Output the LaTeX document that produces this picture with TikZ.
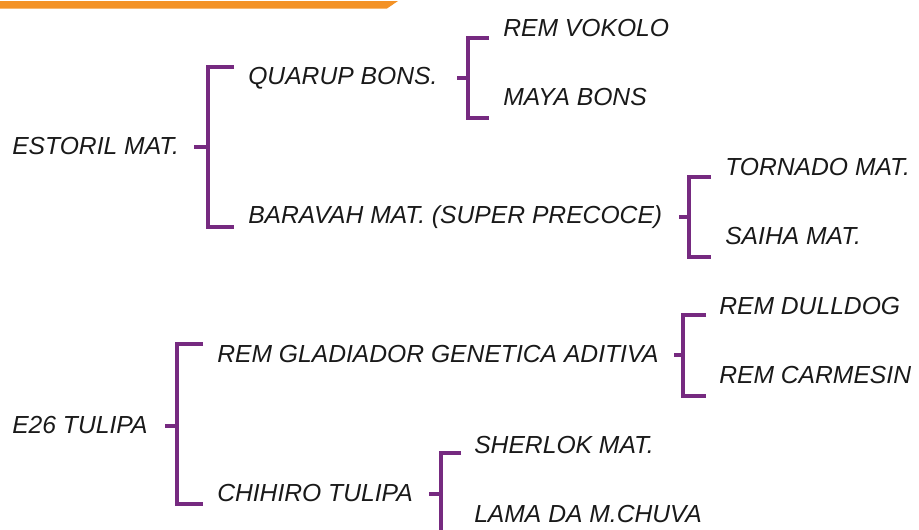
\documentclass[tikz,border=0pt]{standalone}
\usepackage{fontspec}
\setmainfont{Liberation Sans}
\definecolor{brpurple}{RGB}{118,42,128}
\definecolor{barorange}{RGB}{243,146,38}
\begin{document}
\begin{tikzpicture}[x=0.75pt,y=-0.75pt,
  lbl/.style={anchor=base west,inner sep=0pt,font=\fontsize{18.5}{22}\selectfont\itshape,text=black!90},
  br/.style={draw=brpurple,line width=2.4pt,line join=miter}]
\useasboundingbox (0,0) rectangle (919,529);
\fill[barorange] (0,1) -- (398,1) -- (387,8.5) -- (0,8.5) -- cycle;

% texts
\node[lbl] (estoril) at (12,154) {ESTORIL MAT.};
\node[lbl] (quarup) at (248,84) {QUARUP BONS.};
\node[lbl] (baravah) at (248,223) {BARAVAH MAT. (SUPER PRECOCE)};
\node[lbl] (vokolo) at (503,36) {REM VOKOLO};
\node[lbl] (maya) at (503,105) {MAYA BONS};
\node[lbl] (tornado) at (725,175) {TORNADO MAT.};
\node[lbl] (saiha) at (725,244) {SAIHA MAT.};
\node[lbl] (e26) at (12,433) {E26 TULIPA};
\node[lbl] (gladiador) at (217,362) {REM GLADIADOR GENETICA ADITIVA};
\node[lbl] (chihiro) at (217,501) {CHIHIRO TULIPA};
\node[lbl] (dulldog) at (719,314) {REM DULLDOG};
\node[lbl] (carmesin) at (719,383) {REM CARMESIN};
\node[lbl] (sherlok) at (474,453) {SHERLOK MAT.};
\node[lbl] (lama) at (474,522) {LAMA DA M.CHUVA};

% bracket coordinates
\coordinate (b1s) at (194,147); \coordinate (b1m) at (208,147);
\coordinate (b1t) at (234,67);  \coordinate (b1b) at (234,227);
\coordinate (b2s) at (457,78);  \coordinate (b2m) at (468,78);
\coordinate (b2t) at (489,38);  \coordinate (b2b) at (489,118);
\coordinate (b3s) at (679,217); \coordinate (b3m) at (689,217);
\coordinate (b3t) at (711,177); \coordinate (b3b) at (711,257);
\coordinate (b4s) at (165,426); \coordinate (b4m) at (177,426);
\coordinate (b4t) at (203,344); \coordinate (b4b) at (203,504);
\coordinate (b5s) at (674,355); \coordinate (b5m) at (683,355);
\coordinate (b5t) at (706,315); \coordinate (b5b) at (706,396);
\coordinate (b6s) at (429,494); \coordinate (b6m) at (441,494);
\coordinate (b6t) at (461,453); \coordinate (b6b) at (461,535);

\foreach \b in {b1,b2,b3,b4,b5,b6}{
  \draw[br] (\b s) -- (\b m);
  \draw[br] (\b t) -- (\b t -| \b m) -- (\b b -| \b m) -- (\b b);
}
\end{tikzpicture}
\end{document}
